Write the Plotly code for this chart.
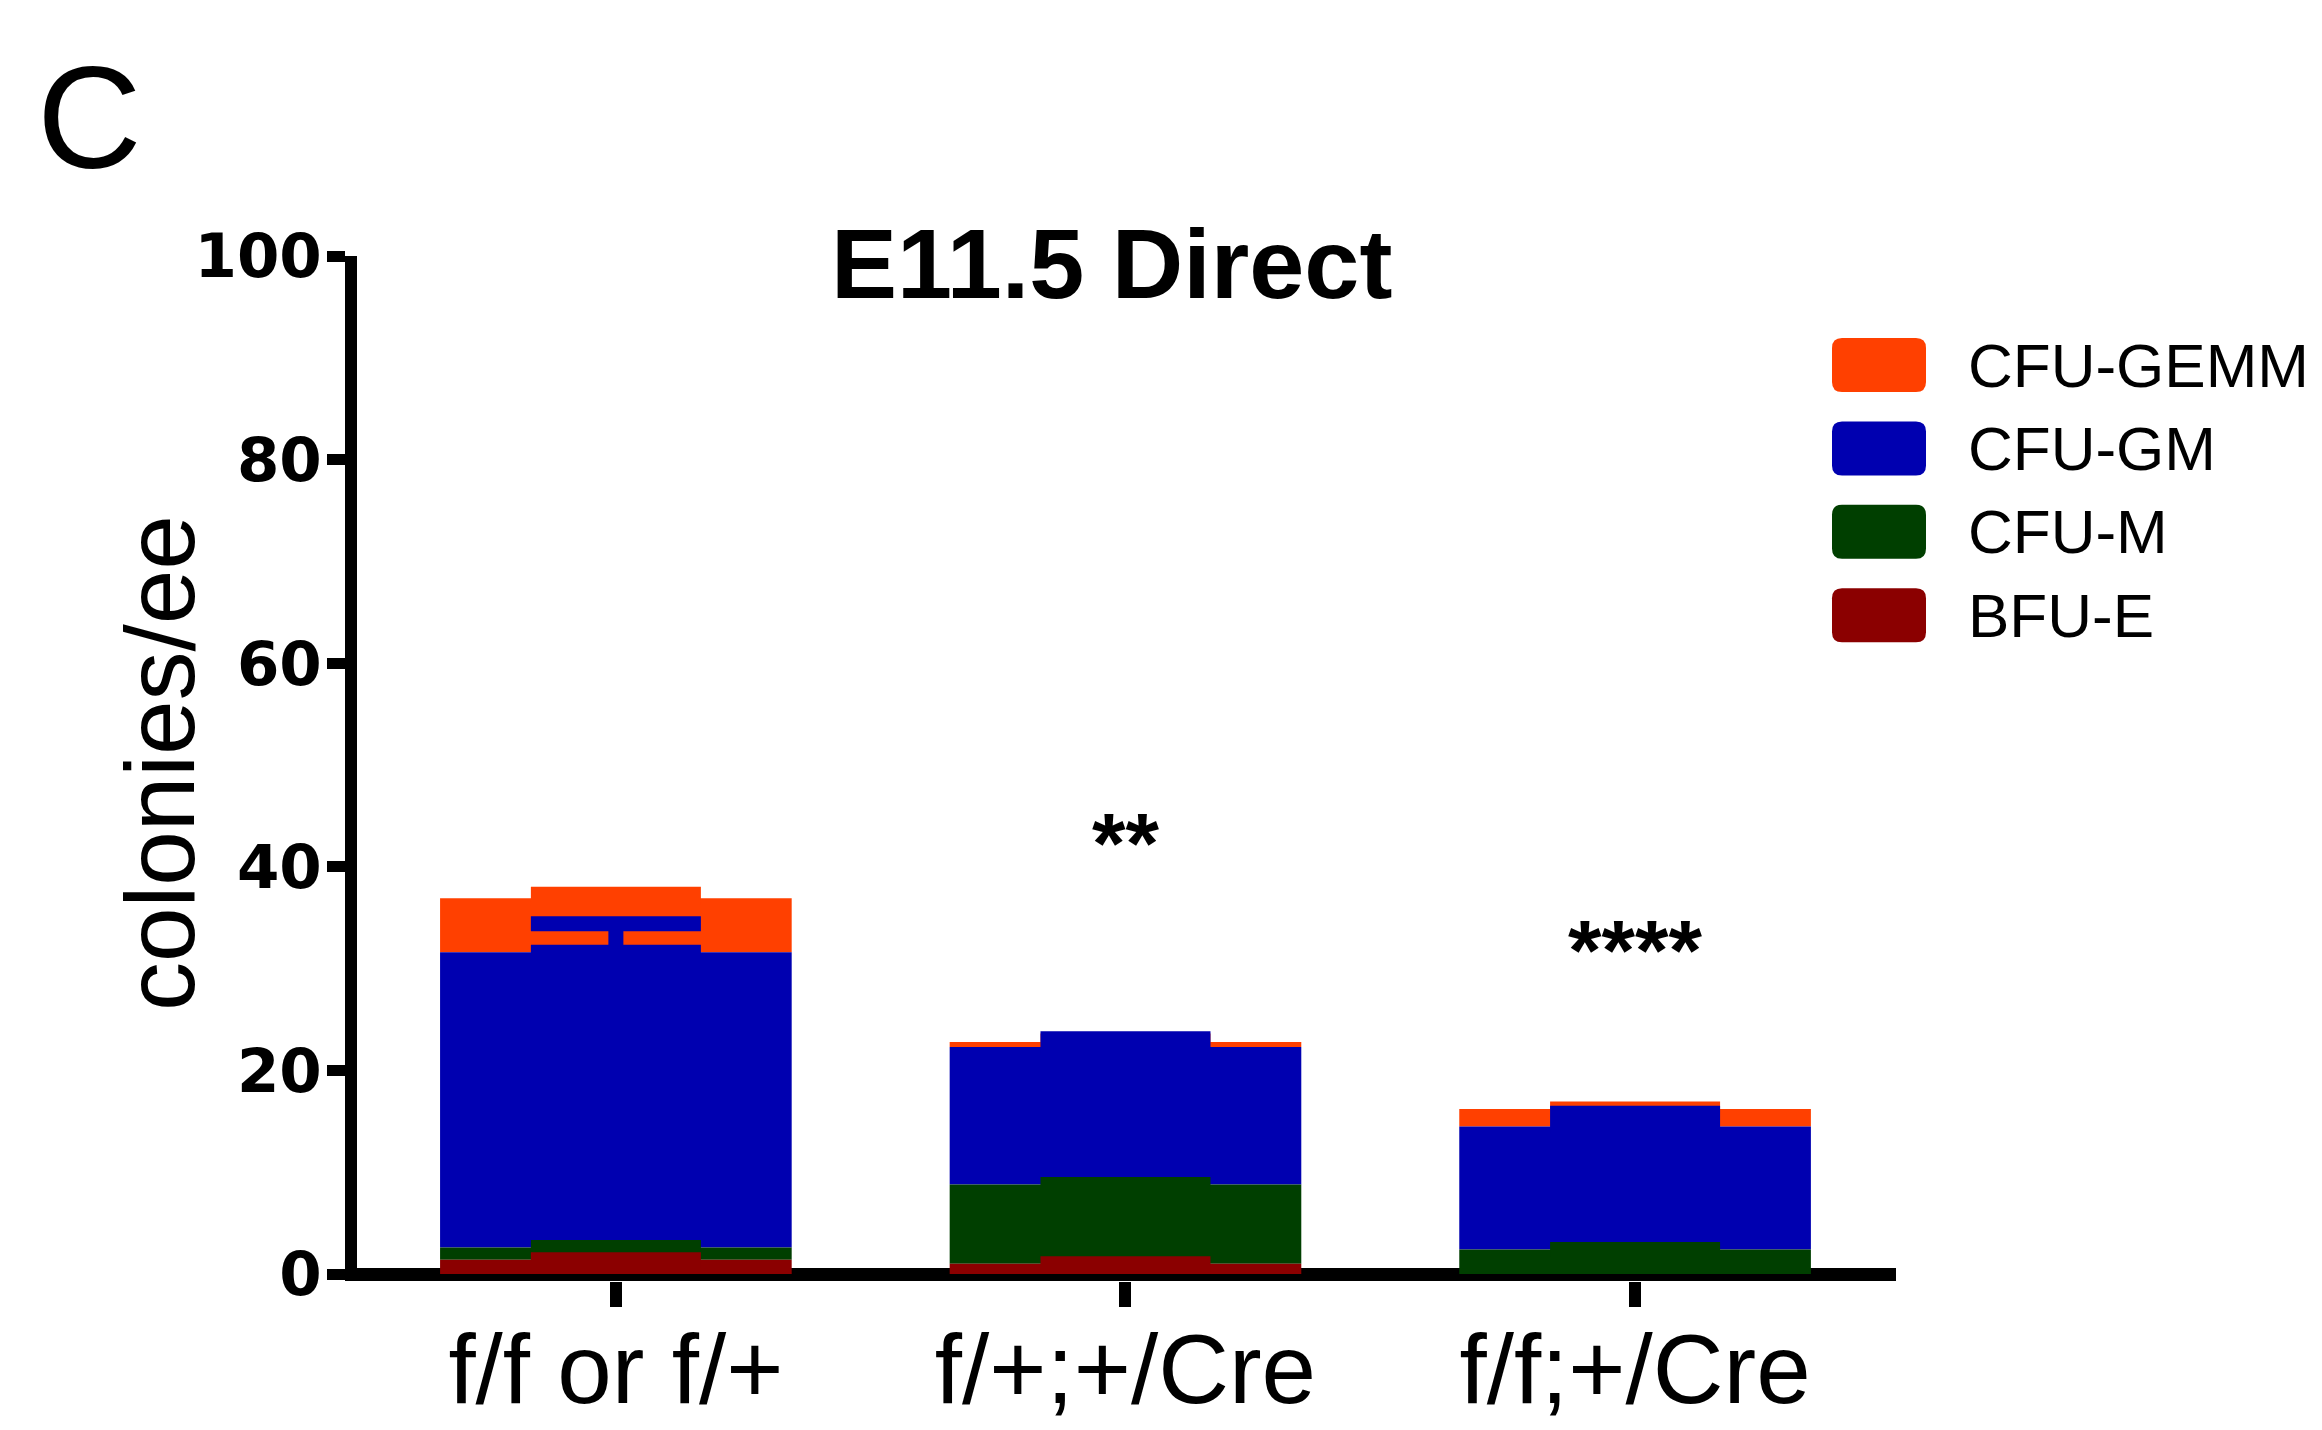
import plotly.graph_objects as go

# ---------------- data ----------------
categories = ["f/f or f/+", "f/+;+/Cre", "f/f;+/Cre"]
series_names = ["CFU-GEMM", "CFU-GM", "CFU-M", "BFU-E"]
series_colors = ["#FF4000", "#0000B0", "#003F00", "#8B0000"]

bfu_e = [1.4, 1.0, None]
cfu_m = [1.2, 7.8, 2.4]
cfu_gm = [29.0, 13.5, 12.1]
cfu_gemm = [5.3, 0.5, 1.7]

bfu_e_err = [0.0, 0.0, 0.0]
cfu_m_err = [0.0, 0.0, 0.0]
cfu_gm_err = [2.8, 0.8, 1.3]
cfu_gemm_err = [0.4, 0.1, 0.0]

sig_labels = ["", "**", "****"]
sig_label_y = [None, 42.3, 31.8]

y_ticks = [0, 20, 40, 60, 80, 100]

# ---------------- geometry (screen pixels of the 2322x1430 page) ----------------
PAGE_OFF = 8                      # default body margin of the html page
W, H = 2322 - PAGE_OFF, 1430 - PAGE_OFF
L, R_EDGE = 357, 1896             # plot area left/right (screen px)
Y100_PX, Y0_PX = 256, 1274        # screen px of y=100 and y=0
B_EDGE = 1281                     # plot area bottom (screen px)
T = Y100_PX
px_per_unit = (Y0_PX - Y100_PX) / 100.0
y_min = -(B_EDGE - Y0_PX) / px_per_unit


def px2x(px):
    return (px - L) / (R_EDGE - L)


def py2y(py):
    return (B_EDGE - py) / (B_EDGE - T)


def nz(v):
    return 0.0 if v is None else v


# stacking bases (bottom -> top: BFU-E, CFU-M, CFU-GM, CFU-GEMM)
base_e = [0.0 for _ in categories]
base_m = [base_e[i] + nz(bfu_e[i]) for i in range(len(categories))]
base_gm = [base_m[i] + nz(cfu_m[i]) for i in range(len(categories))]
base_gemm = [base_gm[i] + nz(cfu_gm[i]) for i in range(len(categories))]

series = [
    (series_names[0], cfu_gemm, base_gemm, cfu_gemm_err, series_colors[0]),
    (series_names[1], cfu_gm, base_gm, cfu_gm_err, series_colors[1]),
    (series_names[2], cfu_m, base_m, cfu_m_err, series_colors[2]),
    (series_names[3], bfu_e, base_e, bfu_e_err, series_colors[3]),
]

fig = go.Figure()
for name, vals, base, err, col in series:
    fig.add_trace(go.Bar(
        name=name,
        x=categories,
        y=vals,
        base=base,
        width=0.69,
        marker=dict(color=col, line=dict(width=0)),
        error_y=dict(type="data", array=err, symmetric=False,
                     arrayminus=[0] * len(err),
                     color=col, thickness=15, width=85, visible=True),
        showlegend=False,
    ))

annotations = []
shapes = []

# custom legend (large rounded swatches)
for i, (name, col) in enumerate(zip(series_names, series_colors)):
    cy = 365 + i * 83.4
    hw, hh, r = 47, 27, 10
    path = (f"M {-hw + r},{-hh} L {hw - r},{-hh} Q {hw},{-hh} {hw},{-hh + r} "
            f"L {hw},{hh - r} Q {hw},{hh} {hw - r},{hh} L {-hw + r},{hh} "
            f"Q {-hw},{hh} {-hw},{hh - r} L {-hw},{-hh + r} Q {-hw},{-hh} {-hw + r},{-hh} Z")
    shapes.append(dict(type="path", xref="paper", yref="paper",
                       xsizemode="pixel", ysizemode="pixel",
                       xanchor=px2x(1879), yanchor=py2y(cy),
                       path=path, fillcolor=col, line=dict(width=0), layer="above"))
    annotations.append(dict(text=name, xref="paper", yref="paper",
                            x=px2x(1966), y=py2y(cy), xanchor="left", yanchor="middle",
                            showarrow=False,
                            font=dict(family="Liberation Sans, Arial", size=62, color="black")))

# significance labels
for cat, lab, yv in zip(categories, sig_labels, sig_label_y):
    if lab and yv is not None:
        annotations.append(dict(text=lab, x=cat, y=yv, xref="x", yref="y",
                                showarrow=False, xanchor="center", yanchor="middle",
                                font=dict(family="Liberation Sans, Arial", size=86,
                                          color="black", weight="bold")))

# title
annotations.append(dict(text="E11.5 Direct", xref="paper", yref="paper",
                        x=px2x(1111), y=py2y(263), xanchor="center", yanchor="middle",
                        showarrow=False,
                        font=dict(family="Liberation Sans, Arial", size=99,
                                  color="black", weight="bold")))
# panel label
annotations.append(dict(text="C", xref="paper", yref="paper",
                        x=px2x(89), y=py2y(118), xanchor="center", yanchor="middle",
                        showarrow=False,
                        font=dict(family="Liberation Sans, Arial", size=145, color="black")))
# y-axis title
annotations.append(dict(text="colonies/ee", xref="paper", yref="paper",
                        x=px2x(160), y=py2y(763), xanchor="center", yanchor="middle",
                        textangle=-90, showarrow=False,
                        font=dict(family="Liberation Sans, Arial", size=98, color="black")))

fig.update_layout(
    width=W, height=H,
    margin=dict(l=L - PAGE_OFF, r=W - (R_EDGE - PAGE_OFF), t=T - PAGE_OFF,
                b=H - (B_EDGE - PAGE_OFF), pad=0, autoexpand=False),
    barmode="overlay",
    paper_bgcolor="white",
    plot_bgcolor="white",
    showlegend=False,
    annotations=annotations,
    shapes=shapes,
    xaxis=dict(
        type="category",
        range=[-0.508, 2.512],
        automargin=False,
        showline=False,
        ticks="outside", ticklen=25, tickwidth=12, tickcolor="black",
        ticklabelstandoff=-22,
        tickfont=dict(family="Liberation Sans, Arial", size=98, color="black"),
        showgrid=False, zeroline=False,
    ),
    yaxis=dict(
        range=[y_min, 100],
        automargin=False,
        tickmode="array", tickvals=y_ticks, ticktext=[str(v) for v in y_ticks],
        showline=True, linewidth=12, linecolor="black",
        ticks="outside", ticklen=18, tickwidth=11, tickcolor="black",
        ticklabelstandoff=-7,
        tickfont=dict(family="DejaVu Sans", size=61, color="black", weight="bold"),
        showgrid=False,
        zeroline=True, zerolinewidth=13, zerolinecolor="black",
    ),
)

fig.write_html("out.html")
